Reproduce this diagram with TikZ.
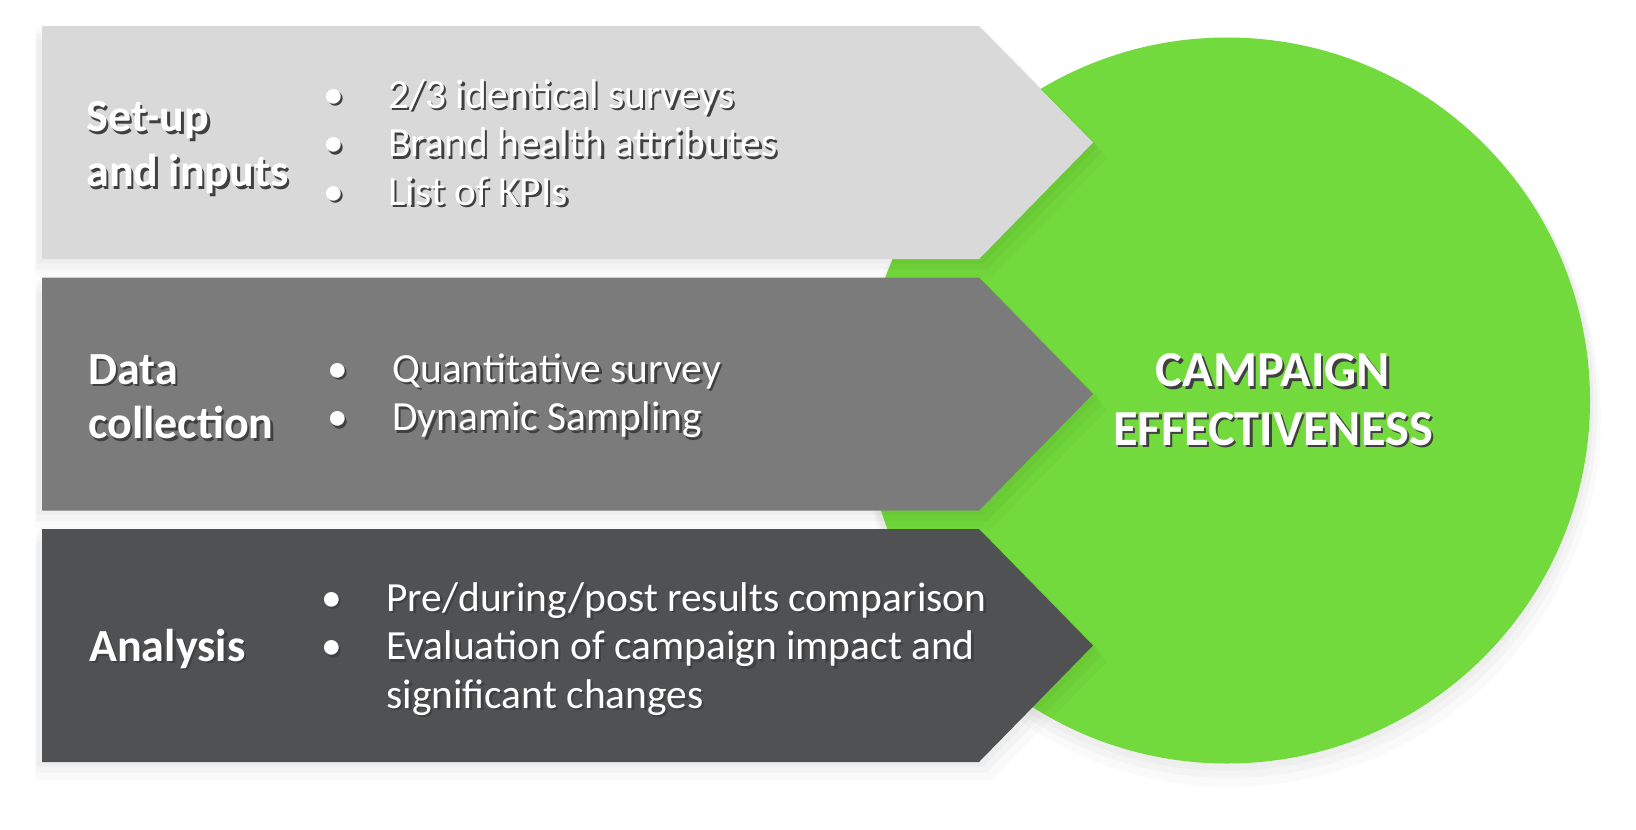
\documentclass[tikz,border=0pt]{standalone}
\usepackage{fontspec}
\setmainfont{Carlito}
\usetikzlibrary{positioning, shadows}
\definecolor{setupgray}{HTML}{D9D9D9}
\definecolor{datagray}{HTML}{7B7B7B}
\definecolor{analysisgray}{HTML}{505153}
\definecolor{effectgreen}{HTML}{72DA3C}
% white text with a dark drop shadow
\newcommand{\sh}[1]{\leavevmode\rlap{\kern1.4pt\raisebox{-1.4pt}{\textcolor{black!75}{#1}}}#1}

\begin{document}
\begin{tikzpicture}[
    x=0.02cm, y=-0.02cm,
    softshadow/.style={
        drop shadow={shadow xshift=0pt, shadow yshift=-2pt, shadow scale=1.01, fill=black, opacity=.025},
        drop shadow={shadow xshift=1pt, shadow yshift=-5pt, shadow scale=1.015, fill=black, opacity=.025},
        drop shadow={shadow xshift=2pt, shadow yshift=-9pt, shadow scale=1.02, fill=black, opacity=.02}},
    title/.style={anchor=west, align=left, inner sep=0pt, text=white, font=\bfseries\fontsize{26.2}{31.2}\selectfont},
    items/.style={anchor=west, inner sep=0pt, text=white, font=\fontsize{23.6}{27.6}\selectfont},
    goal/.style={align=center, inner sep=0pt, text=white, font=\bfseries\fontsize{28.7}{33.4}\selectfont}
]
    \useasboundingbox (0,0) rectangle (1636,829);

    % Result circle
    \fill[effectgreen, softshadow] (1227,400.5) circle (363);
    \node[goal] (effect) at (1273,401) {\sh{CAMPAIGN}\\\sh{EFFECTIVENESS}};

    % Set-up and inputs
    \fill[setupgray, softshadow] (42,26) -- (979,26) -- (1093,142.5) -- (979,259) -- (42,259) -- cycle;
    \node[title] (setup) at (86,149) {\sh{Set-up}\\\sh{and inputs}};
    \node[items] (setupitems) at (323,147) {\begin{tabular}{@{}p{1.3cm}@{}l@{}}
        \sh{\textbullet} & \sh{2/3 identical surveys}\\
        \sh{\textbullet} & \sh{Brand health attributes}\\
        \sh{\textbullet} & \sh{List of KPIs}
    \end{tabular}};

    % Data collection
    \fill[datagray, softshadow] (42,277.5) -- (979,277.5) -- (1093,394) -- (979,510.5) -- (42,510.5) -- cycle;
    \node[title] (data) at (88,398) {\sh{Data}\\\sh{collection}};
    \node[items] (dataitems) at (327,397) {\begin{tabular}{@{}p{1.3cm}@{}l@{}}
        \sh{\textbullet} & \sh{Quantitative survey}\\
        \sh{\textbullet} & \sh{Dynamic Sampling}
    \end{tabular}};

    % Analysis
    \fill[analysisgray, softshadow] (42,529) -- (979,529) -- (1093,645.5) -- (979,762) -- (42,762) -- cycle;
    \node[title] (analysis) at (89,650) {\sh{Analysis}};
    \node[items] (analysisitems) at (321,650) {\begin{tabular}{@{}p{1.3cm}@{}l@{}}
        \sh{\textbullet} & \sh{Pre/during/post results comparison}\\
        \sh{\textbullet} & \sh{Evaluation of campaign impact and}\\
         & \sh{significant changes}
    \end{tabular}};
\end{tikzpicture}
\end{document}
